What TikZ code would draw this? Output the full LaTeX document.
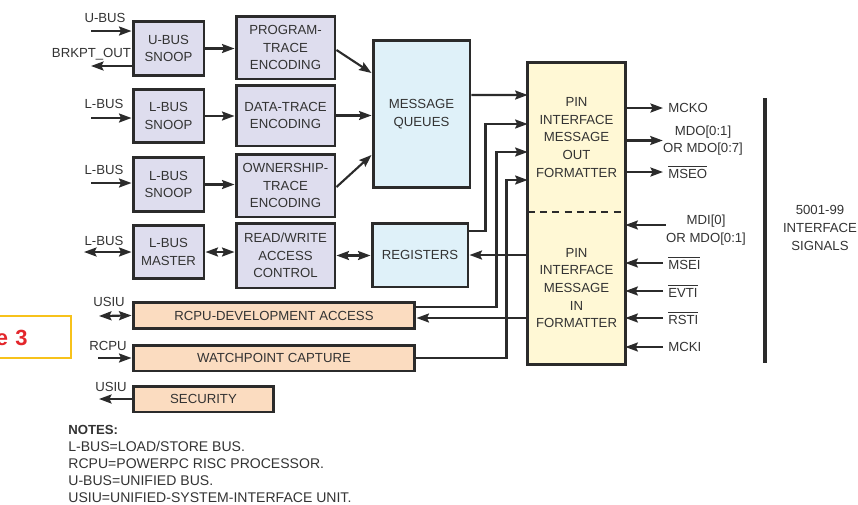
\documentclass[tikz,border=0pt]{standalone}
\usepackage{fontspec}
\setmainfont{Liberation Sans}
\usetikzlibrary{arrows.meta,positioning,calc}
\definecolor{edge}{HTML}{2B2B2B}
\definecolor{txt}{HTML}{333333}
\definecolor{lav}{HTML}{DEDDEE}
\definecolor{qblue}{HTML}{DFF1F9}
\definecolor{pinc}{HTML}{FFF8D5}
\definecolor{peach}{HTML}{FBDCC0}
\definecolor{figy}{HTML}{F7C21B}
\definecolor{figr}{HTML}{E3262B}

\begin{document}
\begin{tikzpicture}[x=0.02cm,y=-0.02cm,
  every node/.style={font=\fontsize{7.5}{10}\selectfont,text=txt},
  st/.style={draw=edge,line width=1.7pt,align=center,inner sep=0pt},
  snp/.style={st,fill=lav,minimum width=1.42cm,minimum height=1.07cm},
  enc/.style={st,fill=lav,minimum width=1.98cm,minimum height=1.26cm},
  qbx/.style={st,fill=qblue,minimum width=1.94cm},
  pch/.style={st,fill=peach,minimum height=0.52cm},
  pinbx/.style={fill=pinc,align=center,inner sep=0pt,minimum width=1.94cm},
  lbl/.style={inner sep=0pt,align=center},
  rl/.style={anchor=west,inner sep=0pt,inner xsep=2.8pt},
  ar/.style={-{Stealth[length=2.5mm,width=1.8mm,inset=0.4mm]},line width=1.2pt,draw=edge},
  dar/.style={{Stealth[length=2.5mm,width=1.8mm,inset=0.4mm]}-{Stealth[length=2.5mm,width=1.8mm,inset=0.4mm]},line width=1.2pt,draw=edge}]
\useasboundingbox (0,0) rectangle (858,504);

% left column
\node[snp] (usnoop) at (168.5,48.5) {U-BUS\\SNOOP};
\node[snp] (lsnoopa) at (168.5,116) {L-BUS\\SNOOP};
\node[snp] (lsnoopb) at (168.5,184.5) {L-BUS\\SNOOP};
\node[snp] (lmaster) at (168.5,252) {L-BUS\\MASTER};
\node[enc] (ptrace) at (285.5,47.5) {PROGRAM-\\TRACE\\ENCODING};
\node[enc,minimum height=1.22cm] (dtrace) at (285.5,115.5) {DATA-TRACE\\ENCODING};
\node[enc] (otrace) at (285.5,185.5) {OWNERSHIP-\\TRACE\\ENCODING};
\node[enc,minimum height=1.3cm] (rwac) at (285.5,255.5) {READ/WRITE\\ACCESS\\CONTROL};
\node[qbx,minimum height=2.96cm] (mq) at (421.5,114) {MESSAGE\\QUEUES};
\node[qbx,minimum width=1.92cm,minimum height=1.28cm] (regs) at (420,255) {REGISTERS};
\node[pch,minimum width=5.64cm] (rcpudev) at (274,315.5) {RCPU-DEVELOPMENT ACCESS};
\node[pch,minimum width=5.64cm] (wpc) at (274,358) {WATCHPOINT CAPTURE};
\node[pch,minimum width=2.82cm] (sec) at (203.5,399) {SECURITY};

% pin interface
\node[pinbx,minimum height=2.98cm] (pinout) at (576.5,137.5) {PIN\\INTERFACE\\MESSAGE\\OUT\\FORMATTER};
\node[pinbx,minimum height=3.04cm] (pinin) at (576.5,288) {PIN\\INTERFACE\\MESSAGE\\IN\\FORMATTER};
\draw[edge,line width=1.1pt,dash pattern=on 4pt off 3pt] (pinout.south west) -- (pinout.south east);
\draw[edge,line width=1.7pt] (pinout.north west) rectangle (pinin.south east);

% bus labels
\node[lbl] (ubuslbl) at (105,18) {U-BUS};
\node[lbl] (brklbl) at (91.5,54) {BRKPT\_OUT};
\node[lbl] (lbusalbl) at (104,104) {L-BUS};
\node[lbl] (lbusblbl) at (104,170) {L-BUS};
\node[lbl] (lbusclbl) at (104,240.5) {L-BUS};
\node[lbl] (usiualbl) at (109,302) {USIU};
\node[lbl] (rcpulbl) at (108,345.5) {RCPU};
\node[lbl] (usiublbl) at (111,387) {USIU};
\coordinate (ubus) at (91,31);
\coordinate (brk) at (91,66);
\coordinate (lbusa) at (91,118);
\coordinate (lbusb) at (91,183);
\coordinate (lbusc) at (84,252);
\coordinate (usiua) at (99,316);
\coordinate (rcpu) at (98,358);
\coordinate (usiub) at (99,399);

\draw[ar] (ubus) -- (usnoop.west |- ubus);
\draw[ar] (usnoop.west |- brk) -- (brk);
\draw[ar] (lbusa) -- (lsnoopa.west |- lbusa);
\draw[ar] (lbusb) -- (lsnoopb.west |- lbusb);
\draw[dar] (lbusc) -- (lmaster.west);
\draw[dar] (usiua) -- (rcpudev.west);
\draw[ar] (rcpu) -- (wpc.west);
\draw[ar] (sec.west) -- (usiub);

\draw[ar] (usnoop.east) -- (ptrace.west |- usnoop.east);
\draw[ar] (lsnoopa.east) -- (dtrace.west |- lsnoopa.east);
\draw[ar] (lsnoopb.east) -- (otrace.west |- lsnoopb.east);
\draw[dar] (lmaster.east) -- (rwac.west |- lmaster.east);
\draw[dar] (rwac.east) -- (regs.west |- rwac.east);
\draw[ar] ([yshift=-0.05cm]ptrace.east) -- ([yshift=0.82cm]mq.west);
\draw[ar] (dtrace.east) -- (mq.west |- dtrace.east);
\draw[ar] ([yshift=-0.03cm]otrace.east) -- ([yshift=-0.82cm]mq.west);

\draw[ar] ([yshift=0.38cm]mq.east) -- ([yshift=0.85cm]pinout.west);
\draw[ar] ([yshift=0.48cm]regs.east) -- ++(16,0) |- ([yshift=0.27cm]pinout.west);
\draw[ar] ([yshift=0.17cm]rcpudev.east) -- ++(80,0) |- ([yshift=-0.29cm]pinout.west);
\draw[ar] (wpc.east) -- ++(90,0) |- ([yshift=-0.85cm]pinout.west);
\draw[ar] (pinin.west |- regs.east) -- (regs.east);
\draw[ar] ([yshift=-0.05cm]pinin.west |- rcpudev.east) -- ([yshift=-0.05cm]rcpudev.east);

% interface signals
\node[rl] (mcko) at (663,108) {MCKO};
\node[lbl] (mdo) at (703,140.5) {MDO[0:1]\\OR MDO[0:7]};
\node[rl] (mseo) at (663,172) {$\overline{\mbox{MSEO}}$};
\node[lbl] (mdi) at (706,230) {MDI[0]\\OR MDO[0:1]};
\node[rl] (msei) at (663,263) {$\overline{\mbox{MSEI}}$};
\node[rl] (evti) at (663,291) {$\overline{\mbox{EVTI}}$};
\node[rl] (rsti) at (663,318) {$\overline{\mbox{RSTI}}$};
\node[rl] (mcki) at (663,347) {MCKI};
\draw[ar] (pinout.east |- mcko.west) -- (mcko.west);
\draw[ar] (pinout.east |- mdo.west) -- (mdo.west);
\draw[ar] (pinout.east |- mseo.west) -- (mseo.west);
\path ([yshift=0.1cm]mdi.west) coordinate (mdiw);
\draw[ar] (mdiw) -- (pinin.east |- mdiw);
\draw[ar] (msei.west) -- (pinin.east |- msei.west);
\draw[ar] (evti.west) -- (pinin.east |- evti.west);
\draw[ar] (rsti.west) -- (pinin.east |- rsti.west);
\draw[ar] (mcki.west) -- (pinin.east |- mcki.west);

\draw[edge,line width=2.3pt] (765,98) -- (765,363);
\node[lbl] (sig) at (820,228) {5001-99\\INTERFACE\\SIGNALS};

% cut-off figure tag and notes
\node[draw=figy,line width=1.2pt,minimum width=1.82cm,minimum height=0.84cm] (figbox) at (25.5,337) {};
\node[lbl,anchor=east,text=figr,font=\fontsize{12.5}{14}\bfseries] (figlbl) at (28,338) {e\,\,3};
\node[lbl,anchor=north west,align=left,font=\fontsize{8}{9.7}\selectfont] (notes) at (68,425)
  {{\fontsize{7.5}{9.7}\bfseries NOTES:}\\L-BUS=LOAD/STORE BUS.\\RCPU=POWERPC RISC PROCESSOR.\\U-BUS=UNIFIED BUS.\\USIU=UNIFIED-SYSTEM-INTERFACE UNIT.};
\end{tikzpicture}
\end{document}
